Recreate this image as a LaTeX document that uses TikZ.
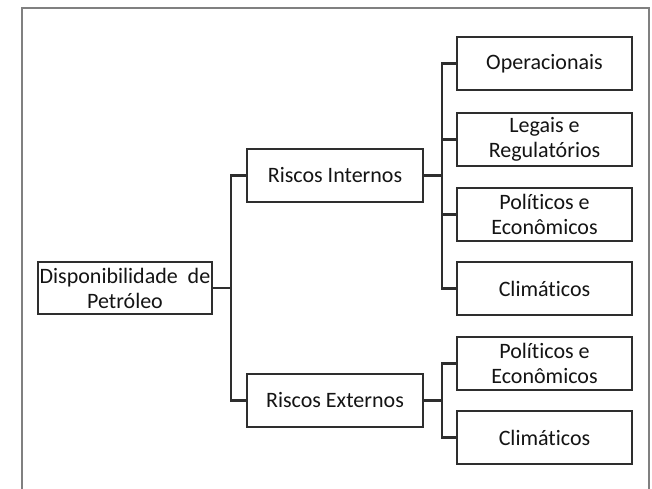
\documentclass[tikz,border=0pt]{standalone}
\usepackage{fontspec}
\setmainfont{Carlito}[Ligatures=NoCommon]
\begin{document}
\begin{tikzpicture}[x=1pt,y=-1pt,
  box/.style={draw=black!82, line width=2.1pt, fill=white, text=black!92,
    minimum width=#1, minimum height=53pt, inner sep=0pt, align=center,
    font=\fontsize{22}{25}\selectfont},
  box/.default=175pt,
  conn/.style={draw=black!82, line width=2.1pt},
  frame/.style={draw=black!50, line width=1.2pt}]
\useasboundingbox (0,0) rectangle (652,489);
% frame
\draw[frame] (22,489) -- (22,8) -- (649,8) -- (649,489);
% nodes
\node[box=174pt, minimum height=52pt] (disp) at (125,288) {Disponibilidade\hspace{0.45em}de\\Petróleo};
\node[box=176pt] (ri) at (335,175.5) {Riscos Internos};
\node[box=176pt] (re) at (335,400.5) {Riscos Externos};
\node[box] (op) at (544.5,63.5) {Operacionais};
\node[box] (lg) at (544.5,139.5) {Legais e\\Regulatórios};
\node[box] (pe1) at (544.5,214.5) {Políticos e\\Econômicos};
\node[box] (cl1) at (544.5,288.5) {Climáticos};
\node[box] (pe2) at (544.5,363.5) {Políticos e\\Econômicos};
\node[box] (cl2) at (544.5,437.5) {Climáticos};
% connectors
\draw[conn] (disp.east) -- ++(18,0) |- (ri.west);
\draw[conn] (disp.east) -- ++(18,0) |- (re.west);
\foreach \c in {op,lg,pe1,cl1}
  \draw[conn] (ri.east) -- ++(18,0) |- (\c.west);
\foreach \c in {pe2,cl2}
  \draw[conn] (re.east) -- ++(18,0) |- (\c.west);
\end{tikzpicture}
\end{document}
